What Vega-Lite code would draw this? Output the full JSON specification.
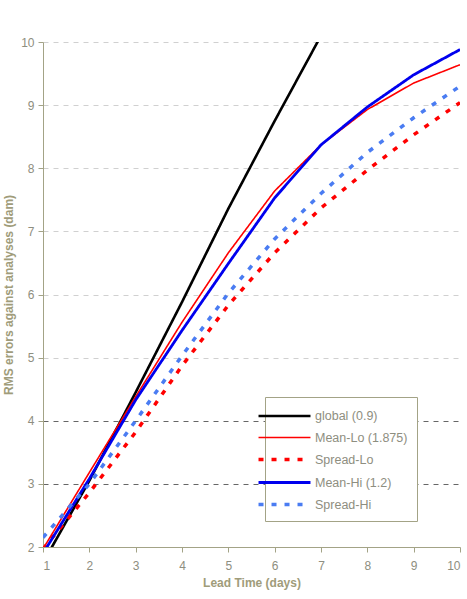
{
  "$schema": "https://vega.github.io/schema/vega-lite/v6.json",
  "width": 417,
  "height": 505,
  "autosize": "none",
  "padding": {"left": 43, "top": 42, "right": 7, "bottom": 52},
  "background": "white",
  "config": {
    "view": {"stroke": null},
    "font": "Liberation Sans"
  },
  "data": {
    "values": [
      {"day": 1, "series": "global (0.9)", "rms": 1.75},
      {"day": 2, "series": "global (0.9)", "rms": 3.05},
      {"day": 3, "series": "global (0.9)", "rms": 4.45},
      {"day": 4, "series": "global (0.9)", "rms": 5.88},
      {"day": 5, "series": "global (0.9)", "rms": 7.36},
      {"day": 6, "series": "global (0.9)", "rms": 8.75},
      {"day": 7, "series": "global (0.9)", "rms": 10.1},
      {"day": 1, "series": "Mean-Lo (1.875)", "rms": 1.97},
      {"day": 2, "series": "Mean-Lo (1.875)", "rms": 3.18},
      {"day": 3, "series": "Mean-Lo (1.875)", "rms": 4.38},
      {"day": 4, "series": "Mean-Lo (1.875)", "rms": 5.56},
      {"day": 5, "series": "Mean-Lo (1.875)", "rms": 6.66},
      {"day": 6, "series": "Mean-Lo (1.875)", "rms": 7.64},
      {"day": 7, "series": "Mean-Lo (1.875)", "rms": 8.37},
      {"day": 8, "series": "Mean-Lo (1.875)", "rms": 8.93},
      {"day": 9, "series": "Mean-Lo (1.875)", "rms": 9.35},
      {"day": 10, "series": "Mean-Lo (1.875)", "rms": 9.64},
      {"day": 1, "series": "Spread-Lo", "rms": 1.97},
      {"day": 2, "series": "Spread-Lo", "rms": 2.86},
      {"day": 3, "series": "Spread-Lo", "rms": 3.82},
      {"day": 4, "series": "Spread-Lo", "rms": 4.87},
      {"day": 5, "series": "Spread-Lo", "rms": 5.83},
      {"day": 6, "series": "Spread-Lo", "rms": 6.66},
      {"day": 7, "series": "Spread-Lo", "rms": 7.37},
      {"day": 8, "series": "Spread-Lo", "rms": 7.97},
      {"day": 9, "series": "Spread-Lo", "rms": 8.53},
      {"day": 10, "series": "Spread-Lo", "rms": 9.04},
      {"day": 1, "series": "Mean-Hi (1.2)", "rms": 1.9},
      {"day": 2, "series": "Mean-Hi (1.2)", "rms": 3.08},
      {"day": 3, "series": "Mean-Hi (1.2)", "rms": 4.33},
      {"day": 4, "series": "Mean-Hi (1.2)", "rms": 5.43},
      {"day": 5, "series": "Mean-Hi (1.2)", "rms": 6.49},
      {"day": 6, "series": "Mean-Hi (1.2)", "rms": 7.53},
      {"day": 7, "series": "Mean-Hi (1.2)", "rms": 8.37},
      {"day": 8, "series": "Mean-Hi (1.2)", "rms": 8.97},
      {"day": 9, "series": "Mean-Hi (1.2)", "rms": 9.48},
      {"day": 10, "series": "Mean-Hi (1.2)", "rms": 9.88},
      {"day": 1, "series": "Spread-Hi", "rms": 2.15},
      {"day": 2, "series": "Spread-Hi", "rms": 3.0},
      {"day": 3, "series": "Spread-Hi", "rms": 4.0},
      {"day": 4, "series": "Spread-Hi", "rms": 5.03},
      {"day": 5, "series": "Spread-Hi", "rms": 6.02},
      {"day": 6, "series": "Spread-Hi", "rms": 6.88},
      {"day": 7, "series": "Spread-Hi", "rms": 7.6},
      {"day": 8, "series": "Spread-Hi", "rms": 8.25},
      {"day": 9, "series": "Spread-Hi", "rms": 8.8},
      {"day": 10, "series": "Spread-Hi", "rms": 9.3}
    ]
  },
  "mark": {"type": "line", "clip": true},
  "encoding": {
    "x": {
      "field": "day",
      "type": "quantitative",
      "scale": {"domain": [1, 10], "nice": false, "zero": false},
      "axis": {
        "title": "Lead Time (days)",
        "values": [1, 2, 3, 4, 5, 6, 7, 8, 9, 10],
        "grid": false,
        "domainColor": "#a3a386",
        "tickColor": "#a3a386",
        "tickSize": 5,
        "labelColor": "#8e8e80",
        "labelFontSize": 12,
        "labelPadding": 8,
        "titleColor": "#a09c7a",
        "titleFontSize": 12,
        "titleFontWeight": "bold",
        "titlePadding": 6
      }
    },
    "y": {
      "field": "rms",
      "type": "quantitative",
      "scale": {"domain": [2, 10], "nice": false, "zero": false},
      "axis": {
        "title": "RMS errors against analyses (dam)",
        "values": [2, 3, 4, 5, 6, 7, 8, 9, 10],
        "grid": true,
        "gridDash": [5, 5],
        "gridColor": {"condition": {"test": "datum.value == 3 || datum.value == 4", "value": "#666666"}, "value": "#d0d0d0"},
        "gridWidth": 1,
        "domainColor": "#a3a386",
        "tickColor": "#a3a386",
        "tickSize": 5,
        "labelColor": "#8e8e80",
        "labelFontSize": 12,
        "labelPadding": 4,
        "titleColor": "#a09c7a",
        "titleFontSize": 12,
        "titleFontWeight": "bold",
        "titlePadding": 5
      }
    },
    "color": {
      "field": "series",
      "type": "nominal",
      "scale": {
        "domain": ["global (0.9)", "Mean-Lo (1.875)", "Spread-Lo", "Mean-Hi (1.2)", "Spread-Hi"],
        "range": ["#000000", "#ff0000", "#ff0000", "#0000ee", "#4a7cf2"]
      },
      "legend": {
        "orient": "none",
        "legendX": 222,
        "legendY": 355,
        "title": null,
        "symbolType": "M-3,0H3",
        "symbolSize": 300,
        "labelColor": "#8e8e80",
        "labelFontSize": 12.5,
        "labelOffset": 20,
        "strokeColor": "#a3a386",
        "fillColor": "white",
        "padding": 9,
        "rowPadding": 5
      }
    },
    "strokeDash": {
      "field": "series",
      "type": "nominal",
      "scale": {
        "domain": ["global (0.9)", "Mean-Lo (1.875)", "Spread-Lo", "Mean-Hi (1.2)", "Spread-Hi"],
        "range": [[1, 0], [1, 0], [5, 8], [1, 0], [5, 8]]
      },
      "legend": null
    },
    "strokeWidth": {
      "field": "series",
      "type": "nominal",
      "scale": {
        "type": "ordinal",
        "domain": ["global (0.9)", "Mean-Lo (1.875)", "Spread-Lo", "Mean-Hi (1.2)", "Spread-Hi"],
        "range": [2.6, 1.6, 3.5, 2.8, 3.5]
      },
      "legend": null
    }
  }
}
